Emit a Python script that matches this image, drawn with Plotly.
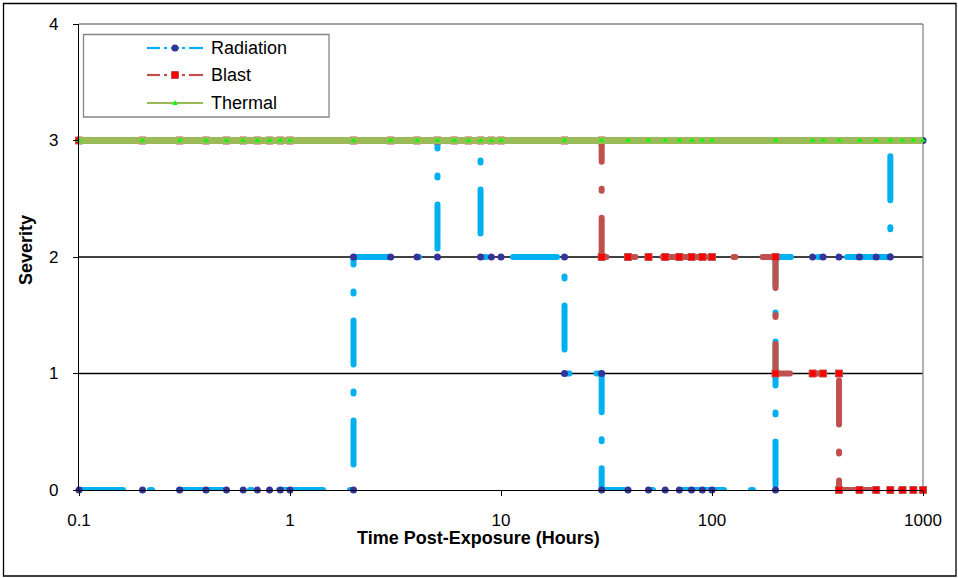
import plotly.graph_objects as go

# ---------------- data ----------------
radiation_x = [0.1, 0.2, 0.3, 0.4, 0.5, 0.6, 0.7, 0.8, 0.9, 1,
               2, 2, 3, 4, 5, 5, 6, 7, 8, 8, 9, 10,
               20, 20, 30, 30, 40, 50, 60, 70, 80, 90, 100,
               200, 200, 300, 336, 400, 500, 600, 700, 700, 800, 900, 1000]
radiation_y = [0, 0, 0, 0, 0, 0, 0, 0, 0, 0,
               0, 2, 2, 2, 2, 3, 3, 3, 3, 2, 2, 2,
               2, 1, 1, 0, 0, 0, 0, 0, 0, 0, 0,
               0, 2, 2, 2, 2, 2, 2, 2, 3, 3, 3, 3]

blast_x = [0.1, 0.2, 0.3, 0.4, 0.5, 0.6, 0.7, 0.8, 0.9, 1,
           2, 3, 4, 5, 6, 7, 8, 9, 10,
           20, 30, 30, 40, 50, 60, 70, 80, 90, 100,
           200, 200, 300, 336, 400, 400, 500, 600, 700, 800, 900, 1000]
blast_y = [3, 3, 3, 3, 3, 3, 3, 3, 3, 3,
           3, 3, 3, 3, 3, 3, 3, 3, 3,
           3, 3, 2, 2, 2, 2, 2, 2, 2, 2,
           2, 1, 1, 1, 1, 0, 0, 0, 0, 0, 0, 0]

thermal_x = [0.1, 0.2, 0.3, 0.4, 0.5, 0.6, 0.7, 0.8, 0.9, 1,
             2, 3, 4, 5, 6, 7, 8, 9, 10,
             20, 30, 40, 50, 60, 70, 80, 90, 100,
             200, 300, 336, 400, 500, 600, 700, 800, 900, 1000]
thermal_y = [3] * len(thermal_x)

series_names = ["Radiation", "Blast", "Thermal"]
x_tick_vals = [0.1, 1, 10, 100, 1000]
x_tick_text = ["0.1", "1", "10", "100", "1000"]
y_tick_vals = [0, 1, 2, 3, 4]
grid_levels = [1, 2, 3]

# ---------------- styling ----------------
FONT = "Liberation Sans, Arial, sans-serif"
RAD_LINE, RAD_MARK = "#00B0F0", "#333399"
BLA_LINE, BLA_MARK = "#C0504D", "#FF0000"
THE_LINE, THE_MARK = "#9BBB59", "#00FF00"
DASH = "44px,27px,2px,27px"   # long-dash-dot, used with round caps

W, H = 958, 578
ML, MR, MT, MB = 79, 35, 24, 88
PW, PH = W - ML - MR, H - MT - MB


def px2x(px):
    return (px - ML) / PW


def py2y(py):
    return (H - MB - py) / PH


fig = go.Figure()
fig.add_trace(go.Scatter(
    x=radiation_x, y=radiation_y, name=series_names[0], mode="lines+markers",
    line=dict(color=RAD_LINE, width=6, dash=DASH),
    marker=dict(symbol="circle", size=7, color=RAD_MARK, line=dict(width=0)),
    cliponaxis=False, showlegend=False))
fig.add_trace(go.Scatter(
    x=blast_x, y=blast_y, name=series_names[1], mode="lines+markers",
    line=dict(color=BLA_LINE, width=6, dash=DASH),
    marker=dict(symbol="square", size=7, color=BLA_MARK, line=dict(width=1, color=BLA_LINE)),
    cliponaxis=False, showlegend=False))
fig.add_trace(go.Scatter(
    x=thermal_x, y=thermal_y, name=series_names[2], mode="lines+markers",
    line=dict(color=THE_LINE, width=7),
    marker=dict(symbol="triangle-up", size=5, color=THE_MARK, line=dict(width=0)),
    cliponaxis=False, showlegend=False))

shapes = []
# grid lines
for g in grid_levels:
    shapes.append(dict(type="line", xref="paper", yref="y", x0=0, x1=1, y0=g, y1=g,
                       line=dict(color="black", width=1.3), layer="between"))
# plot-area top/right border (grey)
shapes.append(dict(type="line", xref="paper", yref="paper", x0=0, x1=1, y0=1, y1=1,
                   line=dict(color="#868686", width=1.3), layer="between"))
shapes.append(dict(type="line", xref="paper", yref="paper", x0=1, x1=1, y0=0, y1=1,
                   line=dict(color="#868686", width=1.3), layer="between"))
# outer chart border
shapes.append(dict(type="rect", xref="paper", yref="paper",
                   x0=px2x(3.5), x1=px2x(956), y0=py2y(3.5), y1=py2y(576),
                   line=dict(color="black", width=1.3), layer="below"))
# legend box
shapes.append(dict(type="rect", xref="paper", yref="paper",
                   x0=px2x(83.5), x1=px2x(329), y0=py2y(34.5), y1=py2y(117),
                   line=dict(color="#868686", width=1.3), fillcolor="white", layer="above"))

legend_rows = [48, 75, 103]
seg_sets = [(147, 160), (164, 167), (171, 179), (182, 185), (189, 203)]
annotations = []
for i, (name, lc) in enumerate(zip(series_names, [RAD_LINE, BLA_LINE, THE_LINE])):
    yy = py2y(legend_rows[i])
    if i < 2:
        for a, b in seg_sets:
            shapes.append(dict(type="line", xref="paper", yref="paper",
                               x0=px2x(a), x1=px2x(b), y0=yy, y1=yy,
                               line=dict(color=lc, width=2.2), layer="above"))
    else:
        shapes.append(dict(type="line", xref="paper", yref="paper",
                           x0=px2x(147), x1=px2x(203), y0=yy, y1=yy,
                           line=dict(color=lc, width=2.2), layer="above"))
    annotations.append(dict(text=name, xref="paper", yref="paper", x=px2x(209), y=yy,
                            xanchor="left", yanchor="middle", showarrow=False,
                            font=dict(family=FONT, size=18, color="black")))

mx = px2x(175)
# radiation legend marker
shapes.append(dict(type="circle", xref="paper", yref="paper", xsizemode="pixel", ysizemode="pixel",
                   xanchor=mx, yanchor=py2y(legend_rows[0]), x0=-3.5, x1=3.5, y0=-3.5, y1=3.5,
                   fillcolor=RAD_MARK, line=dict(width=0), layer="above"))
# blast legend marker
shapes.append(dict(type="rect", xref="paper", yref="paper", xsizemode="pixel", ysizemode="pixel",
                   xanchor=mx, yanchor=py2y(legend_rows[1]), x0=-3.5, x1=3.5, y0=-3.5, y1=3.5,
                   fillcolor=BLA_MARK, line=dict(width=1, color=BLA_LINE), layer="above"))
# thermal legend marker
shapes.append(dict(type="path", xref="paper", yref="paper", xsizemode="pixel", ysizemode="pixel",
                   xanchor=mx, yanchor=py2y(legend_rows[2]),
                   path="M-2.5,-2 L2.5,-2 L0,3 Z",
                   fillcolor=THE_MARK, line=dict(width=0), layer="above"))

# axis titles
annotations.append(dict(text="<b>Time Post-Exposure (Hours)</b>", xref="paper", yref="paper",
                        x=px2x(478.5), y=py2y(538), xanchor="center", yanchor="middle",
                        showarrow=False, borderpad=0,
                        font=dict(family=FONT, size=18, color="black")))
annotations.append(dict(text="<b>Severity</b>", xref="paper", yref="paper",
                        x=px2x(26), y=py2y(250), xanchor="center", yanchor="middle",
                        textangle=-90, showarrow=False,
                        font=dict(family=FONT, size=18, color="black")))

fig.update_layout(
    width=W, height=H,
    margin=dict(l=ML, r=MR, t=MT, b=MB),
    paper_bgcolor="white", plot_bgcolor="white",
    font=dict(family=FONT, size=17, color="black"),
    showlegend=False,
    shapes=shapes, annotations=annotations,
    xaxis=dict(type="log", range=[-1, 3], tickvals=x_tick_vals, ticktext=x_tick_text,
               ticks="outside", ticklen=5, tickwidth=1.3, tickcolor="black",
               showline=True, linecolor="black", linewidth=1.3,
               showgrid=False, zeroline=False, ticklabelstandoff=9,
               tickfont=dict(family=FONT, size=17, color="black")),
    yaxis=dict(range=[0, 4], tickvals=y_tick_vals,
               ticks="outside", ticklen=5, tickwidth=1.3, tickcolor="black",
               showline=True, linecolor="black", linewidth=1.3,
               showgrid=False, zeroline=False, ticklabelstandoff=11,
               tickfont=dict(family=FONT, size=17, color="black")),
)

post_js = (
    "document.body.style.margin='0';document.body.style.padding='0';"
    "document.querySelectorAll('.scatterlayer .js-line').forEach(function(p){"
    "p.style.strokeLinecap='round';p.style.strokeLinejoin='round';});"
)
fig.write_html("out.html", config={"displayModeBar": False}, post_script=post_js)
